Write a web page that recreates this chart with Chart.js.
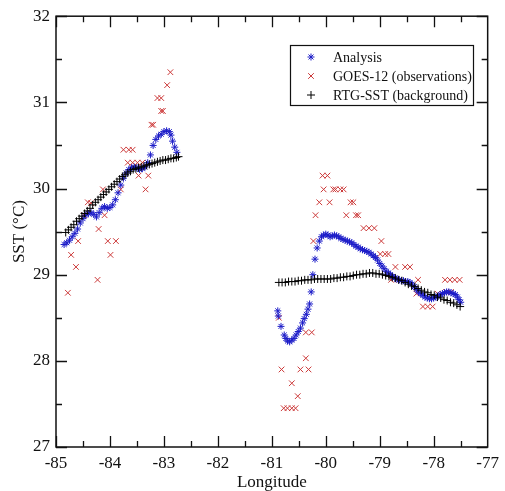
<!DOCTYPE html>
<html>
<head>
<meta charset="utf-8">
<script src="https://cdn.jsdelivr.net/npm/chart.js@4"></script>
<style>
html,body{margin:0;padding:0;background:#fff;}
#wrap{width:505px;height:491px;}
</style>
</head>
<body>
<div id="wrap"><canvas id="c" width="505" height="491"></canvas></div>
<script>
// ---- Data ----
const xTicks = [-85, -84, -83, -82, -81, -80, -79, -78, -77];
const yTicks = [27, 28, 29, 30, 31, 32];
const seriesLabels = ['Analysis', 'GOES-12 (observations)', 'RTG-SST (background)'];

const analysisLon = [
  -84.85,-84.80,-84.75,-84.70,-84.65,-84.60,-84.55,-84.50,-84.45,-84.40,-84.35,-84.30,-84.25,-84.20,-84.15,-84.10,-84.05,-84.00,
  -83.95,-83.90,-83.85,-83.80,-83.75,-83.70,-83.65,-83.60,-83.55,-83.50,-83.45,-83.40,-83.35,-83.30,-83.25,-83.20,-83.15,-83.10,
  -83.05,-83.00,-82.95,-82.90,-82.87,-82.84,-82.80,-82.76,
  -80.89,-80.88,-80.83,-80.77,-80.74,-80.71,-80.67,-80.63,-80.59,-80.55,-80.51,-80.47,-80.43,-80.40,-80.36,-80.33,-80.30,-80.27,
  -80.24,-80.20,-80.16,-80.12,-80.08,-80.04,-80.00,-79.96,-79.92,-79.88,-79.84,-79.80,-79.76,-79.72,-79.68,-79.64,-79.60,-79.56,
  -79.52,-79.48,-79.44,-79.40,-79.36,-79.32,-79.28,-79.24,-79.20,-79.16,-79.12,-79.08,-79.04,-79.00,-78.96,-78.92,-78.88,-78.84,
  -78.80,-78.76,-78.72,-78.68,-78.64,-78.60,-78.56,-78.52,-78.48,-78.44,-78.40,-78.36,-78.32,-78.28,-78.24,-78.20,-78.16,-78.12,
  -78.08,-78.04,-78.00,-77.96,-77.92,-77.88,-77.84,-77.80,-77.76,-77.72,-77.68,-77.64,-77.60,-77.56,-77.53,-77.50
];
const analysisSst = [
  29.35,29.37,29.40,29.44,29.48,29.53,29.60,29.65,29.69,29.71,29.72,29.70,29.67,29.72,29.77,29.79,29.77,29.78,
  29.81,29.87,29.95,30.04,30.12,30.18,30.22,30.24,30.25,30.24,30.22,30.23,30.25,30.30,30.39,30.50,30.57,30.61,
  30.63,30.66,30.67,30.66,30.62,30.55,30.48,30.42,
  28.58,28.52,28.40,28.30,28.26,28.23,28.22,28.24,28.26,28.30,28.34,28.38,28.44,28.49,28.54,28.60,28.66,28.80,
  29.00,29.18,29.31,29.39,29.44,29.46,29.47,29.46,29.44,29.45,29.46,29.45,29.44,29.42,29.41,29.40,29.39,29.38,
  29.37,29.35,29.33,29.32,29.30,29.29,29.28,29.27,29.26,29.24,29.22,29.20,29.17,29.13,29.10,29.07,29.04,29.02,
  29.00,28.98,28.96,28.95,28.94,28.93,28.93,28.92,28.92,28.91,28.89,28.86,28.83,28.80,28.78,28.76,28.74,28.73,
  28.72,28.72,28.73,28.74,28.75,28.77,28.78,28.79,28.80,28.80,28.79,28.78,28.77,28.74,28.71,28.68
];

const goesLon = [
  -84.78,-84.72,-84.63,-84.59,-84.48,-84.41,-84.35,-84.23,-84.21,-84.13,-84.10,-84.04,-83.99,-83.89,-83.80,-83.75,-83.67,-83.65,
  -83.58,-83.58,-83.49,-83.47,-83.40,-83.34,-83.29,-83.23,-83.20,-83.12,-83.05,-83.05,-83.02,-82.94,-82.88,
  -80.87,-80.82,-80.78,-80.71,-80.63,-80.56,-80.63,-80.52,-80.47,-80.32,-80.37,-80.37,-80.26,
  -80.23,-80.19,-80.12,-79.93,-80.04,-79.86,-79.82,-79.73,-79.67,-80.06,-79.97,-79.62,-79.44,-79.40,-79.54,-79.49,
  -79.30,-79.20,-79.10,-78.97,-78.99,-78.90,-78.84,-78.71,-78.53,-78.44,-78.79,-78.64,-78.29,-78.32,-77.93,
  -78.20,-78.11,-78.02,-77.79,-77.70,-77.61,-77.52,-77.77,-77.68
];
const goesSst = [
  28.79,29.23,29.09,29.39,29.69,29.84,29.83,28.94,29.53,29.99,29.69,29.39,29.23,29.39,29.99,30.45,30.30,30.45,
  30.30,30.45,30.30,30.15,30.30,29.99,30.15,30.74,30.74,31.05,31.05,30.90,30.90,31.20,31.35,
  28.50,27.90,27.45,27.45,27.45,27.45,27.74,27.59,27.90,27.90,28.03,28.33,28.33,
  29.39,29.69,29.84,29.84,29.99,29.99,29.99,29.99,29.99,30.15,30.15,29.69,29.69,29.69,29.84,29.84,
  29.54,29.54,29.54,29.39,29.24,29.24,29.24,29.09,29.09,29.09,28.94,28.94,28.94,28.78,28.78,
  28.63,28.63,28.63,28.94,28.94,28.94,28.94,28.80,28.80
];

const rtgLon = [
  -84.82,-84.77,-84.72,-84.67,-84.62,-84.57,-84.52,-84.47,-84.42,-84.37,-84.32,-84.27,-84.22,-84.17,-84.12,-84.07,-84.02,
  -83.97,-83.92,-83.87,-83.82,-83.77,-83.72,-83.67,-83.62,-83.57,-83.52,-83.47,-83.42,-83.37,-83.32,-83.27,-83.22,-83.17,
  -83.12,-83.07,-83.02,-82.97,-82.92,-82.87,-82.82,-82.77,-82.73,
  -80.87,-80.81,-80.75,-80.69,-80.63,-80.57,-80.51,-80.45,-80.39,-80.33,-80.27,-80.21,-80.15,-80.09,-80.03,-79.97,-79.91,
  -79.85,-79.79,-79.73,-79.67,-79.61,-79.55,-79.49,-79.43,-79.37,-79.31,-79.25,-79.19,-79.13,-79.07,-79.01,-78.95,-78.89,
  -78.83,-78.77,-78.71,-78.65,-78.59,-78.53,-78.47,-78.41,-78.35,-78.29,-78.23,-78.17,-78.11,-78.05,-77.99,-77.93,-77.87,
  -77.81,-77.75,-77.69,-77.63,-77.57,-77.51
];
const rtgSst = [
  29.49,29.52,29.55,29.58,29.62,29.65,29.68,29.71,29.74,29.77,29.81,29.84,29.87,29.90,29.93,29.96,29.99,
  30.02,30.05,30.08,30.11,30.14,30.16,30.18,30.20,30.22,30.23,30.24,30.25,30.26,30.27,30.28,30.29,30.30,
  30.31,30.32,30.33,30.33,30.34,30.35,30.35,30.36,30.37,
  28.91,28.91,28.91,28.92,28.92,28.92,28.93,28.93,28.94,28.94,28.94,28.95,28.95,28.95,28.95,28.95,28.95,
  28.96,28.96,28.97,28.97,28.98,28.98,28.99,29.00,29.00,29.01,29.01,29.02,29.02,29.01,29.01,29.00,28.99,
  28.98,28.97,28.96,28.94,28.93,28.91,28.89,28.87,28.86,28.84,28.82,28.80,28.79,28.77,28.76,28.74,28.73,
  28.71,28.70,28.68,28.67,28.65,28.63
];

// ---- Build ----
const pts = (xs, ys) => xs.map((x, i) => ({x: x, y: ys[i]}));
const SERIF = '"Liberation Serif", "DejaVu Serif", serif';

const frameAndTicks = {
  id: 'frameAndTicks',
  afterDatasetsDraw(chart) {
    const {ctx, chartArea: a, scales: {x, y}} = chart;
    ctx.save();
    ctx.strokeStyle = '#111';
    ctx.lineWidth = 1.3;
    ctx.beginPath();
    const major = 11, minor = 6;
    for (let v = -85; v <= -77.001; v += 0.5) {
      const px = Math.round(x.getPixelForValue(v)) + 0.5;
      const len = Number.isInteger(v) ? major : minor;
      ctx.moveTo(px, a.bottom); ctx.lineTo(px, a.bottom - len);
      ctx.moveTo(px, a.top); ctx.lineTo(px, a.top + len);
    }
    for (let v = 27; v <= 32.001; v += 0.5) {
      const py = Math.round(y.getPixelForValue(v)) + 0.5;
      const len = Number.isInteger(v) ? major : minor;
      ctx.moveTo(a.left, py); ctx.lineTo(a.left + len, py);
      ctx.moveTo(a.right, py); ctx.lineTo(a.right - len, py);
    }
    ctx.stroke();
    ctx.lineWidth = 1.5;
    ctx.strokeRect(a.left, a.top, a.right - a.left, a.bottom - a.top);
    ctx.restore();
  }
};

const boxLegend = {
  id: 'boxLegend',
  afterDraw(chart) {
    const ctx = chart.ctx;
    const bx = 290, by = 45, bw = 183, bh = 60;
    ctx.save();
    ctx.fillStyle = '#fff';
    ctx.fillRect(bx, by, bw, bh);
    ctx.strokeStyle = '#111';
    ctx.lineWidth = 1.2;
    ctx.strokeRect(bx + 0.5, by + 0.5, bw, bh);
    chart.data.datasets.forEach((ds, i) => {
      const cy = by + 12 + i * 19;
      ctx.strokeStyle = ds.borderColor;
      ctx.fillStyle = ds.borderColor;
      ctx.lineWidth = 1;
      Chart.helpers.drawPoint(ctx, {pointStyle: ds.pointStyle, radius: ds.pointRadius, borderWidth: 1, rotation: 0}, bx + 21, cy);
      ctx.fillStyle = '#111';
      ctx.font = '14px ' + SERIF;
      ctx.textBaseline = 'middle';
      ctx.textAlign = 'left';
      ctx.fillText(ds.label, bx + 43, cy + 1);
    });
    ctx.restore();
  }
};

new Chart(document.getElementById('c'), {
  type: 'scatter',
  data: {
    datasets: [
      {label: seriesLabels[0], data: pts(analysisLon, analysisSst), pointStyle: 'star', pointRadius: 3.5,
       borderColor: '#1c1cc8', backgroundColor: '#1c1cc8', borderWidth: 1, order: 2},
      {label: seriesLabels[1], data: pts(goesLon, goesSst), pointStyle: 'crossRot', pointRadius: 4,
       borderColor: '#cc3a3a', backgroundColor: '#cc3a3a', borderWidth: 1, order: 3},
      {label: seriesLabels[2], data: pts(rtgLon, rtgSst), pointStyle: 'cross', pointRadius: 4,
       borderColor: '#000000', backgroundColor: '#000000', borderWidth: 1, order: 1}
    ]
  },
  options: {
    responsive: false,
    animation: false,
    layout: {padding: {left: 0, right: 15, top: 12, bottom: 0}},
    plugins: {legend: {display: false}, tooltip: {enabled: false}},
    elements: {point: {hoverRadius: 4}},
    scales: {
      x: {
        type: 'linear', min: -85, max: -77,
        afterBuildTicks: (s) => { s.ticks = xTicks.map(v => ({value: v})); },
        afterFit: (s) => { s.height = 44; },
        grid: {display: false, drawTicks: false},
        border: {display: false},
        ticks: {color: '#111', padding: 6, autoSkip: false, maxRotation: 0, font: {family: SERIF, size: 17}},
        title: {display: true, text: 'Longitude', color: '#111', padding: 0, font: {family: SERIF, size: 17, lineHeight: 1}}
      },
      y: {
        type: 'linear', min: 27, max: 32,
        afterBuildTicks: (s) => { s.ticks = yTicks.map(v => ({value: v})); },
        afterFit: (s) => { s.width = 56; },
        grid: {display: false, drawTicks: false},
        border: {display: false},
        ticks: {color: '#111', padding: 6, font: {family: SERIF, size: 17}},
        title: {display: true, text: 'SST (°C)', color: '#111', padding: {top: 11, bottom: 0}, font: {family: SERIF, size: 17, lineHeight: 1}}
      }
    }
  },
  plugins: [frameAndTicks, boxLegend]
});
</script>
</body>
</html>
